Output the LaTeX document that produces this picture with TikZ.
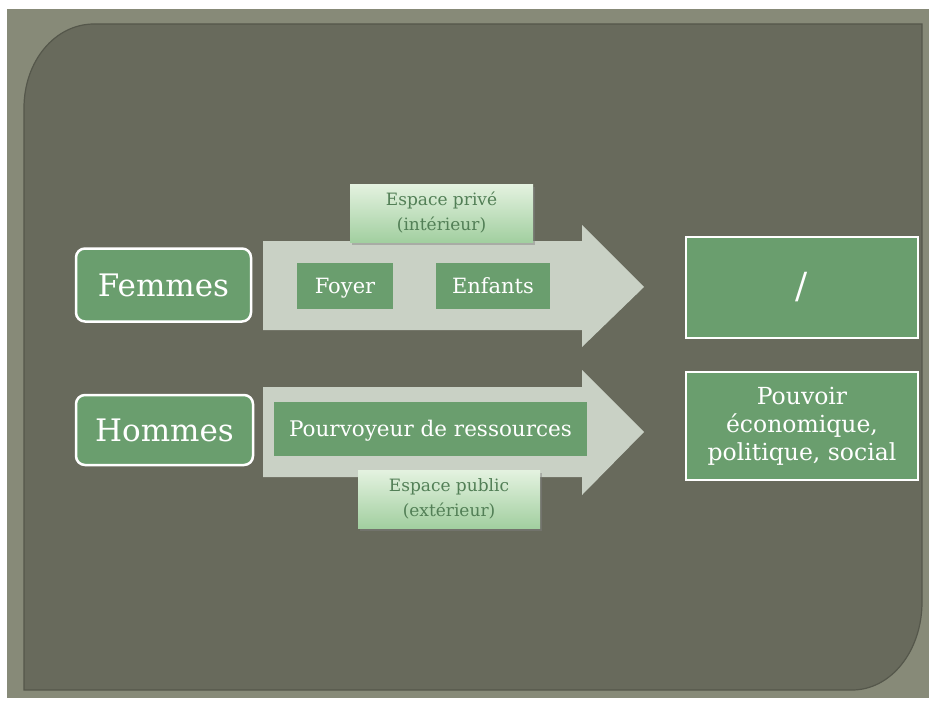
\documentclass[tikz,border=0pt]{standalone}
\usepackage{fontspec}
\setmainfont{DejaVu Serif}
\usetikzlibrary{shadows}
\definecolor{framecol}{HTML}{878A78}
\definecolor{panelcol}{HTML}{686A5C}
\definecolor{paneledge}{HTML}{55574B}
\definecolor{boxgreen}{HTML}{6A9E6E}
\definecolor{arrowfill}{HTML}{C9D1C5}
\definecolor{labtop}{HTML}{E4F2E0}
\definecolor{labbot}{HTML}{A2CFA0}
\definecolor{labtext}{HTML}{527F56}
\tikzset{
  bigbox/.style={draw=white, line width=2.5pt, fill=boxgreen, rounded corners=9pt,
    text=white, font=\fontsize{31}{36}\selectfont, inner sep=0pt},
  smallbox/.style={fill=boxgreen, text=white, inner sep=0pt,
    text height=15.5pt, text depth=1.5pt,
    font=\fontsize{21}{25}\selectfont},
  resbox/.style={draw=white, line width=2pt, fill=boxgreen, text=white, inner sep=0pt,
    minimum width=232pt, align=center},
  labbox/.style={top color=labtop, bottom color=labbot, draw=none, text=labtext,
    inner sep=0pt, minimum width=183pt, minimum height=58pt, align=center,
    font=\fontsize{17}{25}\selectfont,
    drop shadow={shadow xshift=1.5pt, shadow yshift=-2.5pt, opacity=0.45}},
  blockarrow/.style={fill=arrowfill}
}
\begin{document}
\begin{tikzpicture}[x=1pt,y=-1pt]
\useasboundingbox (0,0) rectangle (929,701);
\fill[white] (0,0) rectangle (929,701);
\fill[framecol] (7,9) rectangle (929,698);
\filldraw[fill=panelcol, draw=paneledge, line width=1.2pt]
  (24,690) -- (24,108) .. controls (24,61) and (55,24) .. (94,24)
  -- (922,24) -- (922,602) .. controls (922,651) and (891,690) .. (852,690) -- cycle;

% block arrows
\fill[blockarrow] (263,241) -- (582,241) -- (582,225) -- (644,287) -- (582,347) -- (582,330) -- (263,330) -- cycle;
\fill[blockarrow] (263,387) -- (582,387) -- (582,370) -- (644,432) -- (582,495) -- (582,477) -- (263,477) -- cycle;

% left boxes
\node[bigbox, minimum width=175pt, minimum height=73pt] (femmes) at (163.5,285) {Femmes};
\node[bigbox, minimum width=177pt, minimum height=70pt] (hommes) at (164.5,430) {Hommes};

% inner boxes
\node[smallbox, minimum width=96pt, minimum height=46pt] (foyer) at (345,286) {Foyer};
\node[smallbox, minimum width=114pt, minimum height=46pt] (enfants) at (493,286) {Enfants};
\node[smallbox, minimum width=313pt, minimum height=54pt, font=\fontsize{21.5}{26}\selectfont] (pourv) at (430.5,429) {Pourvoyeur de ressources};

% labels
\node[labbox] (prive) at (441.5,213) {Espace privé\\(intérieur)};
\node[labbox, minimum width=182pt] (public) at (449,499) {Espace public\\(extérieur)};

% result boxes
\node[resbox, minimum height=101pt, font=\fontsize{36}{40}\selectfont] (slash) at (802,287.5) {/};
\node[resbox, minimum height=108pt, font=\fontsize{23.5}{28}\selectfont] (pouvoir) at (802,426) {Pouvoir\\économique,\\politique, social};
\end{tikzpicture}
\end{document}
